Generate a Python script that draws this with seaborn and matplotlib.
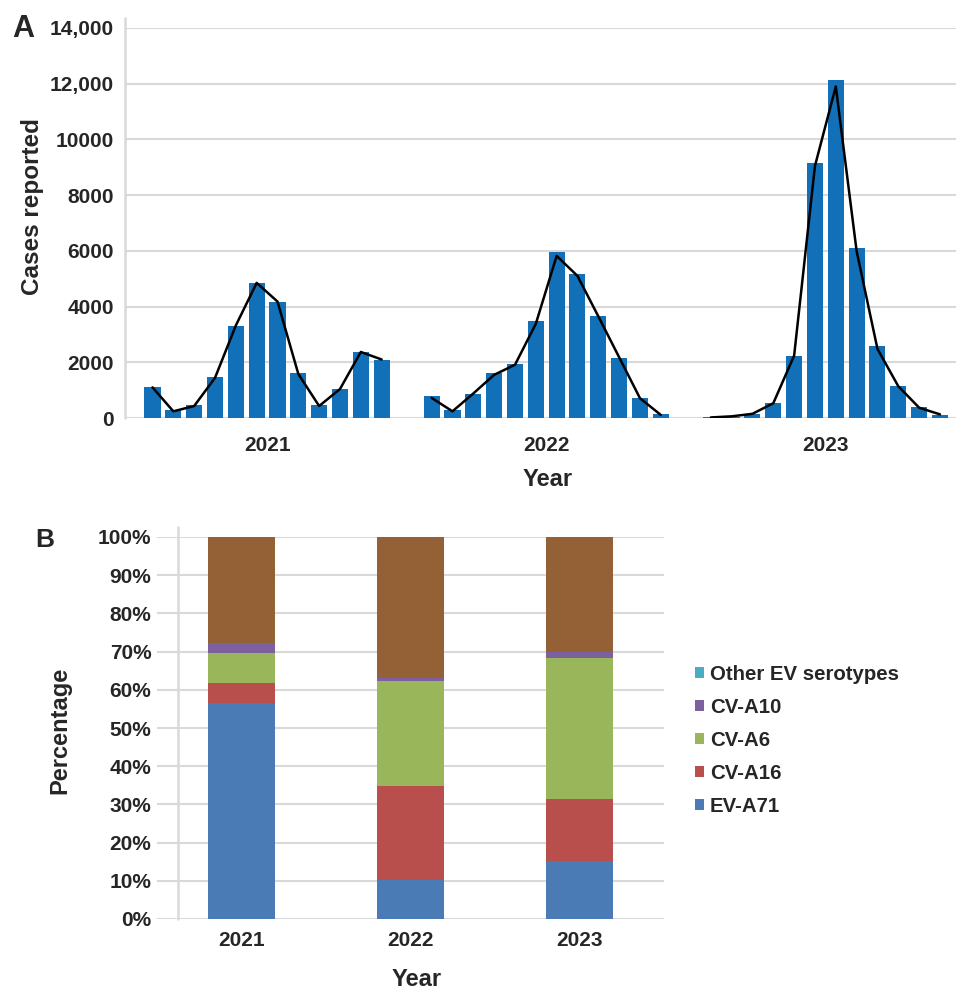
import numpy as np
import pandas as pd
import matplotlib
matplotlib.use("Agg")
import matplotlib.pyplot as plt
from matplotlib.patches import Patch
import seaborn as sns

# ---------------- data ----------------
years = ["2021", "2022", "2023"]
months = list(range(1, 13))

# monthly reported cases (bars)
cases_2021 = [1100, 290, 470, 1460, 3320, 4850, 4180, 1600, 470, 1050, 2370, 2100]
cases_2022 = [780, 290, 860, 1600, 1950, 3470, 5950, 5180, 3670, 2150, 730, 140]
cases_2023 = [20, 50, 150, 530, 2240, 9170, 12120, 6090, 2570, 1160, 380, 120]

# monthly trend line
trend_2021 = [1100, 240, 430, 1440, 3320, 4850, 4180, 1580, 430, 1040, 2370, 2100]
trend_2022 = [720, 240, 880, 1550, 1910, 3380, 5820, 5100, 3650, 2180, 710, 110]
trend_2023 = [20, 60, 150, 530, 2240, 9050, 11900, 5990, 2480, 1140, 370, 130]

y_ticks_a = [0, 2000, 4000, 6000, 8000, 10000, 12000, 14000]
y_labels_a = ["0", "2000", "4000", "6000", "8000", "10000", "12,000", "14,000"]

# serotype composition (%), bottom to top
ev_a71 = [56.5, 10.2, 15.2]
cv_a16 = [5.4, 24.6, 16.2]
cv_a6 = [7.7, 27.6, 36.8]
cv_a10 = [2.6, 0.7, 1.8]
other_ev = [27.8, 36.9, 30.0]

# ---------------- style ----------------
sns.set_theme(style="white")
plt.rcParams["font.family"] = ["Liberation Sans", "DejaVu Sans"]
plt.rcParams["font.weight"] = "bold"

GRID = "#D9D9D9"
BAR_BLUE = "#1170B8"
COL_EV71 = "#4A7BB4"
COL_A16 = "#B94F4C"
COL_A6 = "#9AB65A"
COL_A10 = "#7D60A0"
COL_OTHER_BAR = "#946035"
COL_OTHER_KEY = "#4BACC6"

fig = plt.figure(figsize=(9.56, 9.9), dpi=100)
W, H = 956, 990


def px_axes(left, top, right, bottom):
    return [left / W, 1 - bottom / H, (right - left) / W, (bottom - top) / H]


# ---------------- panel A ----------------
axA = fig.add_axes(px_axes(125, 28, 956, 418))

year_step = 13.4
rows = []
for yi, (yr, cs, tr) in enumerate(zip(years, [cases_2021, cases_2022, cases_2023],
                                       [trend_2021, trend_2022, trend_2023])):
    for m, c, t in zip(months, cs, tr):
        rows.append({"year": yr, "pos": yi * year_step + (m - 1), "cases": c, "trend": t})
df_a = pd.DataFrame(rows)

sns.barplot(data=df_a, x="pos", y="cases", native_scale=True, width=0.77,
            color=BAR_BLUE, saturation=1, edgecolor="none", linewidth=0, ax=axA)
sns.lineplot(data=df_a, x="pos", y="trend", units="year", estimator=None,
             color="black", lw=1.8, legend=False, ax=axA)

x_left = -1.32
axA.set_xlim(x_left, 2 * year_step + 11 + 0.77)
axA.set_ylim(0, 14000)
axA.set_yticks(y_ticks_a)
axA.set_yticklabels(y_labels_a)
centers = [yi * year_step + 5.5 for yi in range(len(years))]
axA.set_xticks(centers)
axA.set_xticklabels(years)
axA.tick_params(axis="both", length=0, labelsize=15)
axA.tick_params(axis="y", pad=8)
axA.tick_params(axis="x", pad=13)
for lab in axA.get_xticklabels() + axA.get_yticklabels():
    lab.set_fontweight("bold")
axA.yaxis.grid(True, color=GRID, lw=1.5)
axA.set_axisbelow(True)
for s in axA.spines.values():
    s.set_visible(False)
axA.axvline(x_left, ymin=0, ymax=1.026, color=GRID, lw=1.8, clip_on=False, zorder=0)
axA.set_xlabel("Year", fontsize=17, fontweight="bold")
axA.xaxis.set_label_coords(0.509, -0.128)
axA.set_ylabel("Cases reported", fontsize=17.5, fontweight="bold")
axA.yaxis.set_label_coords(-0.097, 0.541)

fig.text(12 / W, 1 - 37 / H, "A", fontsize=22, fontweight="bold", va="baseline", ha="left")

# ---------------- panel B ----------------
axB = fig.add_axes(px_axes(157, 537, 664, 919))

layers = [("EV-A71", ev_a71, COL_EV71, COL_EV71),
          ("CV-A16", cv_a16, COL_A16, COL_A16),
          ("CV-A6", cv_a6, COL_A6, COL_A6),
          ("CV-A10", cv_a10, COL_A10, COL_A10),
          ("Other EV serotypes", other_ev, COL_OTHER_BAR, COL_OTHER_KEY)]

comp = pd.DataFrame({name: vals for name, vals, _, _ in layers}, index=years)
cum = comp.cumsum(axis=1)

# draw cumulative totals from the top layer down so each band shows
for name, _, bar_col, _ in reversed(layers):
    sns.barplot(x=years, y=cum[name].values, color=bar_col, saturation=1,
                width=0.4, edgecolor="none", linewidth=0, ax=axB)

axB.set_ylim(0, 100)
axB.set_xlim(-0.5, 2.5)
axB.set_yticks(np.arange(0, 101, 10))
axB.set_yticklabels([f"{v}%" for v in range(0, 101, 10)])
axB.tick_params(axis="both", length=0, labelsize=15)
axB.tick_params(axis="y", pad=4)
axB.tick_params(axis="x", pad=9)
for lab in axB.get_xticklabels() + axB.get_yticklabels():
    lab.set_fontweight("bold")
axB.yaxis.grid(True, color=GRID, lw=1.5)
axB.set_axisbelow(True)
for s in axB.spines.values():
    s.set_visible(False)
axB.axvline(-0.373, ymin=0, ymax=1.027, color=GRID, lw=1.8, clip_on=False, zorder=0)
axB.set_xlabel("Year", fontsize=17, fontweight="bold")
axB.xaxis.set_label_coords(0.513, -0.128)
axB.set_ylabel("Percentage", fontsize=17, fontweight="bold")
axB.yaxis.set_label_coords(-0.168, 0.495)

handles = [Patch(facecolor=key_col, edgecolor="none", label=name)
           for name, _, _, key_col in reversed(layers)]
fig.legend(handles=handles, loc="upper left",
           bbox_to_anchor=(695 / W, 1 - 665 / H), bbox_transform=fig.transFigure,
           frameon=False, borderpad=0, borderaxespad=0,
           handlelength=0.42, handleheight=0.42, handletextpad=0.3,
           labelspacing=0.68, prop={"size": 14.7, "weight": "bold"})

fig.text(35 / W, 1 - 547 / H, "B", fontsize=19, fontweight="bold", va="baseline", ha="left")

fig.savefig("out.png", dpi=100)
